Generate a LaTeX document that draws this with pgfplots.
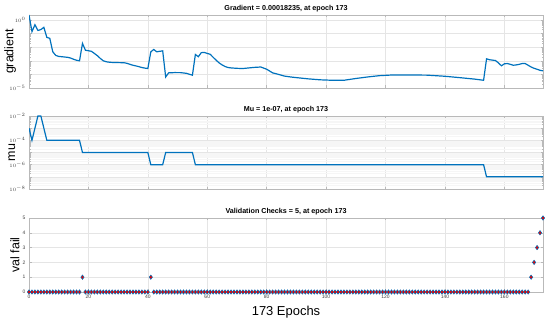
\documentclass[border=0pt]{standalone}
\usepackage{pgfplots}
\pgfplotsset{compat=1.18}
\usepackage{fontspec}
\setmainfont{Liberation Sans}
\definecolor{mblue}{RGB}{0,114,189}
\definecolor{mred}{RGB}{230,0,0}
\pgfplotsset{
  panel/.style={
    scale only axis, width=514bp, height=73bp,
    xmin=0, xmax=173, xtick={0,20,...,160},
    grid=major, major grid style={gray!20, line width=0.4pt},
    minor grid style={gray!7, line width=0.4pt},
    axis line style={gray!55, line width=0.5pt},
    tick style={gray!55, line width=0.4pt},
    tick align=inside, major tick length=2.5bp, minor tick length=1.5bp,
    /pgf/number format/assume math mode=true,
    ticklabel style={font=\fontsize{5}{6}\selectfont, text=black!75},
    every axis title shift=0pt,
    title style={font=\bfseries\fontsize{7.2}{8}\selectfont, at={(0.5,1)}, anchor=south, yshift=-0.5bp},
    ylabel style={font=\fontsize{12.5}{14}\selectfont, anchor=base},
    xlabel style={font=\fontsize{13}{15}\selectfont, at={(rel axis cs:0.5,0)}, anchor=base, yshift=-23bp},
  },
}
\begin{document}
\begin{tikzpicture}
\path[use as bounding box] (0,0) rectangle (550bp,321bp);
% ---------------- Gradient
\begin{axis}[panel, at={(29bp,233bp)}, anchor=south west,
  ymode=log, ymin=1e-5, ymax=2.34,
  ytick={1e-5,1e-4,1e-3,1e-2,1e-1,1},
  yticklabels={$10^{-5}$,,,,,$10^{0}$},
  xticklabels={},
  title={Gradient = 0.00018235, at epoch 173},
  ylabel={gradient}, ylabel style={at={([xshift=-15.7bp]rel axis cs:0,0.5)}}]
\addplot[mblue, line width=1.2pt] coordinates {
(0,2.34)(1,0.14)(2,0.45)(3,0.17)(4,0.2)(5,0.29)(6,0.053)(7,0.045)
(8,0.0046)(9,0.0025)(10,0.0021)(11,0.0020)(12,0.0019)(13,0.0018)(14,0.0016)(15,0.0013)(16,0.0011)(17,0.0010)
(18,0.019)(19,0.006)(20,0.0055)(21,0.005)(22,0.0035)(23,0.0024)(24,0.0015)(25,0.0010)(26,0.00085)(27,0.00079)
(28,0.00076)(30,0.00074)(32,0.00072)(33,0.00065)(34,0.00055)(35,0.00047)(36,0.00042)(37,0.00037)(38,0.00032)(39,0.00029)(40,0.00027)
(41,0.0046)(42,0.0068)(43,0.0046)(44,0.005)(45,0.0054)
(46,0.000065)(47,0.00013)(49,0.000136)(51,0.000135)(53,0.00012)(55,0.000087)
(56,0.0029)(57,0.002)(58,0.004)(59,0.0041)(60,0.0035)(61,0.003)(62,0.0018)(63,0.0011)(64,0.0007)(65,0.0005)
(66,0.00038)(67,0.00032)(68,0.0003)(70,0.00028)(72,0.00027)(74,0.0003)(76,0.00033)(78,0.00035)(80,0.00024)
(82,0.00013)(84,0.0001)(86,0.000075)(88,0.000065)(90,0.000058)(94,0.000047)(98,0.00004)(102,0.000037)(106,0.000037)
(110,0.00005)(114,0.000065)(118,0.000081)(122,0.00009)(128,0.000091)(134,0.000088)(140,0.000073)(146,0.000055)(150,0.000045)(153,0.000037)
(154,0.0014)(155,0.0012)(157,0.00105)(158,0.0007)(159,0.00043)(160,0.0006)(161,0.00063)(162,0.00055)(163,0.00047)(164,0.0005)
(165,0.00055)(166,0.00063)(167,0.00063)(168,0.00047)(169,0.00035)(170,0.00028)(171,0.00024)(172,0.0002)(173,0.00018235)
};
\end{axis}
% ---------------- Mu
\begin{axis}[panel, at={(29bp,132bp)}, anchor=south west,
  ymode=log, ymin=1e-8, ymax=1e-2,
  ytick={1e-8,1e-7,1e-6,1e-5,1e-4,1e-3,1e-2},
  yticklabels={$10^{-8}$,,$10^{-6}$,,$10^{-4}$,,$10^{-2}$},
  minor ytick={2e-8,3e-8,4e-8,5e-8,6e-8,7e-8,8e-8,9e-8,
    2e-7,3e-7,4e-7,5e-7,6e-7,7e-7,8e-7,9e-7,
    2e-6,3e-6,4e-6,5e-6,6e-6,7e-6,8e-6,9e-6,
    2e-5,3e-5,4e-5,5e-5,6e-5,7e-5,8e-5,9e-5,
    2e-4,3e-4,4e-4,5e-4,6e-4,7e-4,8e-4,9e-4,
    2e-3,3e-3,4e-3,5e-3,6e-3,7e-3,8e-3,9e-3},
  yminorgrids=true,
  xticklabels={},
  title={Mu = 1e-07, at epoch 173},
  ylabel={mu}, ylabel style={at={([xshift=-14bp]rel axis cs:0,0.5)}}]
\addplot[mblue, line width=1.2pt] coordinates {
(0,1e-3)(1,1e-4)(2,1e-3)(3,1e-2)(4,1e-2)(5,1e-3)(6,1e-4)(17,1e-4)(18,1e-5)(40,1e-5)
(41,1e-6)(45,1e-6)(46,1e-5)(55,1e-5)(56,1e-6)(153,1e-6)(154,1e-7)(173,1e-7)
};
\end{axis}
% ---------------- Validation checks
\begin{axis}[panel, at={(29bp,29bp)}, anchor=south west, height=74bp,
  ymin=0, ymax=5, ytick={0,1,2,3,4,5},
  title={Validation Checks = 5, at epoch 173},
  ylabel={val fail}, ylabel style={at={([xshift=-9.7bp]rel axis cs:0,0.5)}},
  xlabel={173 Epochs}]
\addplot[only marks, mark=diamond*, mark size=2.2bp,
  mark options={draw=mblue, fill=mred, line width=0.5pt}] coordinates {
(0,0)(1,0)(2,0)(3,0)(4,0)(5,0)(6,0)(7,0)(8,0)(9,0)
(10,0)(11,0)(12,0)(13,0)(14,0)(15,0)(16,0)(17,0)(18,1)(19,0)
(20,0)(21,0)(22,0)(23,0)(24,0)(25,0)(26,0)(27,0)(28,0)(29,0)
(30,0)(31,0)(32,0)(33,0)(34,0)(35,0)(36,0)(37,0)(38,0)(39,0)
(40,0)(41,1)(42,0)(43,0)(44,0)(45,0)(46,0)(47,0)(48,0)(49,0)
(50,0)(51,0)(52,0)(53,0)(54,0)(55,0)(56,0)(57,0)(58,0)(59,0)
(60,0)(61,0)(62,0)(63,0)(64,0)(65,0)(66,0)(67,0)(68,0)(69,0)
(70,0)(71,0)(72,0)(73,0)(74,0)(75,0)(76,0)(77,0)(78,0)(79,0)
(80,0)(81,0)(82,0)(83,0)(84,0)(85,0)(86,0)(87,0)(88,0)(89,0)
(90,0)(91,0)(92,0)(93,0)(94,0)(95,0)(96,0)(97,0)(98,0)(99,0)
(100,0)(101,0)(102,0)(103,0)(104,0)(105,0)(106,0)(107,0)(108,0)(109,0)
(110,0)(111,0)(112,0)(113,0)(114,0)(115,0)(116,0)(117,0)(118,0)(119,0)
(120,0)(121,0)(122,0)(123,0)(124,0)(125,0)(126,0)(127,0)(128,0)(129,0)
(130,0)(131,0)(132,0)(133,0)(134,0)(135,0)(136,0)(137,0)(138,0)(139,0)
(140,0)(141,0)(142,0)(143,0)(144,0)(145,0)(146,0)(147,0)(148,0)(149,0)
(150,0)(151,0)(152,0)(153,0)(154,0)(155,0)(156,0)(157,0)(158,0)(159,0)
(160,0)(161,0)(162,0)(163,0)(164,0)(165,0)(166,0)(167,0)(168,0)(169,1)
(170,2)(171,3)(172,4)(173,5)
};
\end{axis}
\end{tikzpicture}
\end{document}
